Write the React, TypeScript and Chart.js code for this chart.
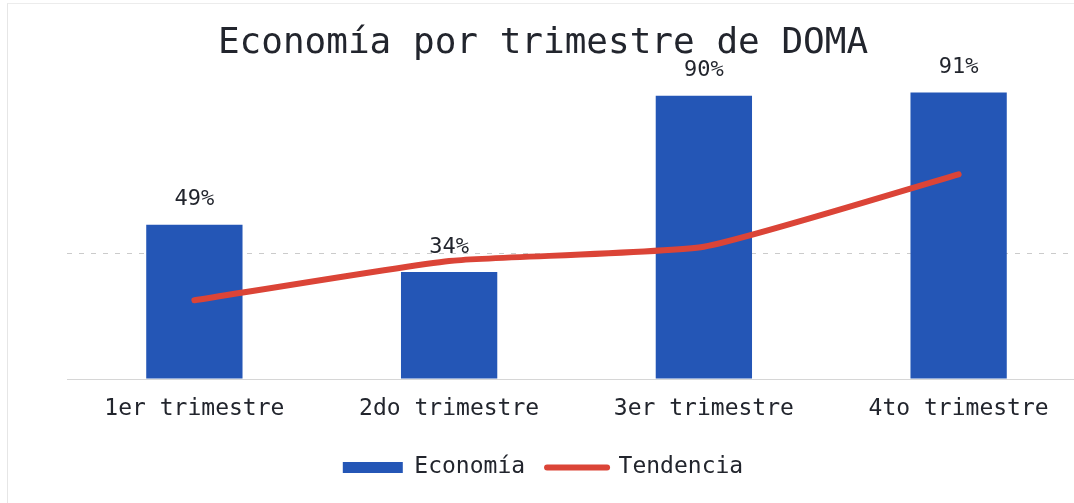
import React, { useEffect, useRef } from "react";
import { Chart, registerables } from "chart.js";

Chart.register(...registerables);

const categories = ["1er trimestre", "2do trimestre", "3er trimestre", "4to trimestre"];
const economia = [49, 34, 90, 91];
const tendencia = [25, 37.5, 42, 65];
const valueLabels = ["49%", "34%", "90%", "91%"];
const titleText = "Economía por trimestre de DOMA";

const FONT = "'DejaVu Sans Mono', monospace";
const BLUE = "#2456b6";
const RED = "#db4437";
const TEXT = "#22252d";

const barLabelsPlugin = {
  id: "barLabels",
  afterDatasetsDraw(chart: any) {
    const meta = chart.getDatasetMeta(0);
    const ctx = chart.ctx;
    ctx.save();
    ctx.font = `22px ${FONT}`;
    ctx.fillStyle = TEXT;
    ctx.textAlign = "center";
    ctx.textBaseline = "middle";
    meta.data.forEach((bar: any, i: number) => {
      ctx.fillText(valueLabels[i], bar.x, bar.y - 25);
    });
    ctx.restore();
  },
};

export default function App() {
  const ref = useRef<HTMLCanvasElement | null>(null);

  useEffect(() => {
    if (!ref.current) return;
    const chart = new Chart(ref.current, {
      type: "bar",
      data: {
        labels: categories,
        datasets: [
          {
            type: "bar",
            label: "Economía",
            data: economia,
            backgroundColor: BLUE,
            borderWidth: 0,
            categoryPercentage: 1,
            barPercentage: 0.378,
            order: 1,
          },
          {
            type: "line",
            label: "Tendencia",
            data: tendencia,
            borderColor: RED,
            backgroundColor: RED,
            borderWidth: 6,
            borderCapStyle: "round",
            borderJoinStyle: "round",
            pointRadius: 0,
            tension: 0.15,
            order: 0,
          } as any,
        ],
      },
      options: {
        animation: false,
        responsive: true,
        maintainAspectRatio: false,
        layout: { padding: { left: 0, right: 0, top: 0, bottom: 14 } },
        scales: {
          x: {
            grid: { display: false, drawTicks: false },
            border: { display: true, color: "#d6d6d6", width: 1 },
            ticks: { font: { family: FONT, size: 23 }, color: TEXT, padding: 16 },
            afterFit: (scale: any) => {
              scale.height = 55;
            },
          },
          y: {
            min: 0,
            max: 100,
            ticks: { display: false, stepSize: 40 },
            border: { display: false, dash: [5, 7] },
            grid: {
              drawTicks: false,
              color: (c: any) => (c.tick && c.tick.value === 40 ? "#cbcbcb" : "rgba(0,0,0,0)"),
              lineWidth: 1,
            },
            afterFit: (scale: any) => {
              scale.width = 67;
            },
          } as any,
        },
        plugins: {
          title: {
            display: true,
            text: titleText,
            color: TEXT,
            font: { family: FONT, size: 36, weight: "normal" },
            padding: { top: 22, bottom: -1 },
          },
          legend: {
            position: "bottom",
            labels: {
              font: { family: FONT, size: 23 },
              color: TEXT,
              usePointStyle: true,
              pointStyleWidth: 60,
              boxHeight: 11,
              padding: 22,
              sort: (a: any, b: any) => a.datasetIndex - b.datasetIndex,
              generateLabels: (chart: any) => {
                const items = Chart.defaults.plugins.legend.labels.generateLabels(chart);
                return items.map((it: any) => {
                  if (it.datasetIndex === 1) {
                    return { ...it, pointStyle: "line", lineWidth: 6, strokeStyle: RED, lineCap: "round" };
                  }
                  return { ...it, pointStyle: "rect", lineWidth: 0, fillStyle: BLUE, strokeStyle: BLUE };
                });
              },
            },
          },
          tooltip: { enabled: false },
        },
      } as any,
      plugins: [barLabelsPlugin],
    });
    return () => chart.destroy();
  }, []);

  return (
    <div
      style={{
        position: "fixed",
        left: 0,
        top: 0,
        width: 1074,
        height: 503,
        overflow: "hidden",
        background: "#ffffff",
      }}
    >
      <div
        style={{
          position: "absolute",
          left: 7,
          top: 3,
          width: 1200,
          height: 600,
          borderLeft: "1px solid #e6e6e6",
          borderTop: "1px solid #ececec",
        }}
      />
      <div style={{ position: "absolute", left: 0, top: 0, width: 1086, height: 503 }}>
        <canvas ref={ref} />
      </div>
    </div>
  );
}
